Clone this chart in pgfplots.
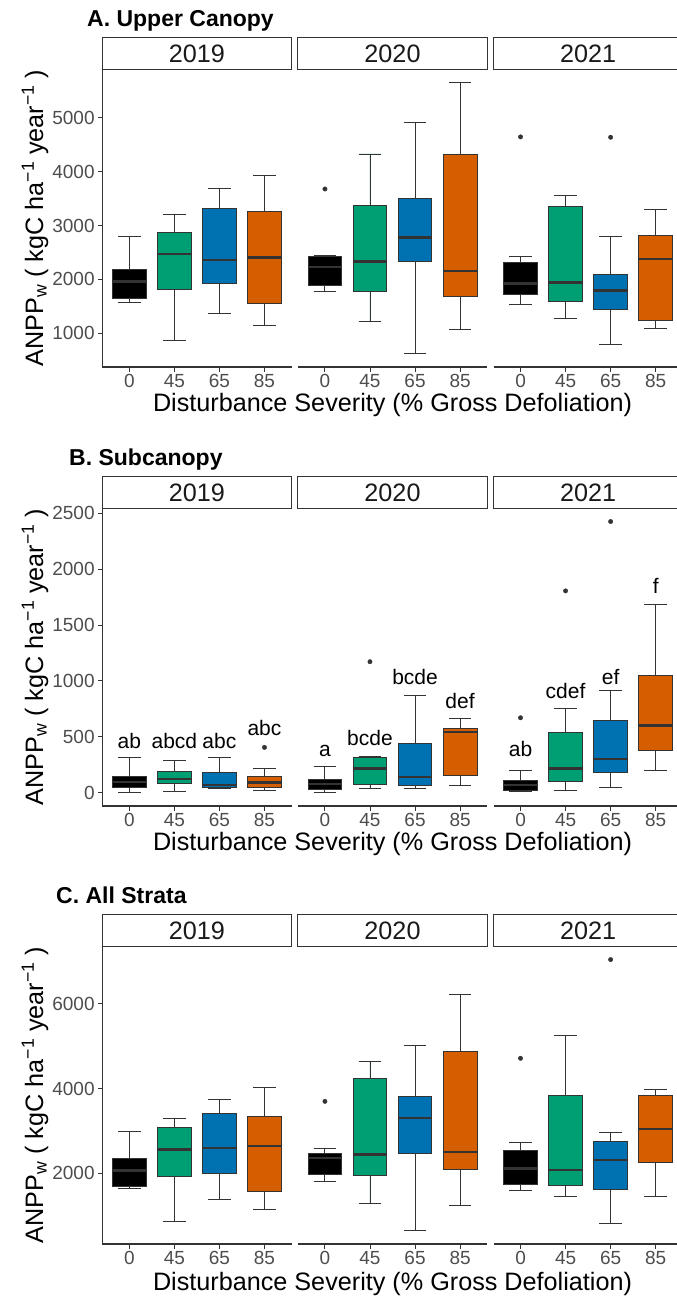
\documentclass[border=0pt]{standalone}
\usepackage{fontspec}
\setmainfont{Liberation Sans}
\usepackage{pgfplots}
\pgfplotsset{compat=1.18}
\usepgfplotslibrary{statistics}
\definecolor{cK}{HTML}{000000}
\definecolor{cG}{HTML}{009E73}
\definecolor{cB}{HTML}{0072B2}
\definecolor{cO}{HTML}{D55E00}
\definecolor{gA}{HTML}{333333}
\definecolor{gT}{HTML}{4D4D4D}
\definecolor{gS}{HTML}{1A1A1A}
\newcommand{\tfont}{\fontsize{19}{21}\selectfont}
\newcommand{\lfont}{\fontsize{25.2}{27}\selectfont}
\pgfplotsset{
 panel/.style={scale only axis, width=189.2pt, height=298pt,
   xmin=0.4, xmax=4.6, xtick={1,2,3,4}, xticklabels={0,45,65,85},
   axis x line*=bottom, tick align=outside, major tick length=4.5pt,
   tick style={gA, line width=0.9pt},
   axis line style={gA, line width=1.2pt},
   tick label style={font=\tfont, text=gT},
   xticklabel style={anchor=north, inner sep=0pt, yshift=-2.5pt},
   yticklabel style={anchor=east, inner sep=0pt, xshift=-3pt},
   clip=false, anchor=south west},
 first/.style={panel, axis y line*=left},
 other/.style={panel, axis y line=none, ytick=\empty},
 bx/.style={fill=#1, draw=gA, line width=0.9pt,
   boxplot/draw direction=y,
   boxplot/box extend=0.75, boxplot/whisker extend=0.5,
   boxplot/every median/.style={line width=2.4pt},
   mark=*, mark size=2.2pt, mark options={fill=gA, draw=gA, line width=0.4pt}},
}
\tikzset{lt/.style={anchor=base, font=\fontsize{21}{22}\selectfont, text=black}}
\newcommand{\strips}[1]{%
 \foreach \xl/\yr in {102.3/2019,297.9/2020,493.5/2021}{%
  \draw[gA, line width=1pt, fill=white] (\xl pt,#1) rectangle ++(189.2pt,-31.3pt);
  \node[font=\lfont, text=gS] at ([shift={(94.6pt,-15.65pt)}]\xl pt,#1) {\yr};
 }}
\newcommand{\ytitle}[1]{%
 \node[rotate=90, anchor=base, font=\lfont] at (43pt,#1) {ANPP\textsubscript{w} ( kgC ha\textsuperscript{−1} year\textsuperscript{−1} )};}
\newcommand{\xtitle}[1]{%
 \node[anchor=base, font=\lfont] at (392.5pt,#1) {Disturbance Severity (\% Gross Defoliation)};}
\begin{document}
\begin{tikzpicture}
\useasboundingbox (0pt,0pt) rectangle (677pt,-1296pt);

% ================= A. Upper Canopy =================
\begin{axis}[first, at={(102.3pt,-367pt)}, ymin=370, ymax=5909,
  ytick={1000,2000,3000,4000,5000}, yticklabels={1000,2000,3000,4000,5000}]
\addplot[bx=cK, boxplot prepared={draw position=1, lower whisker=1571, lower quartile=1651, median=1961, upper quartile=2191, upper whisker=2798}] coordinates {};
\addplot[bx=cG, boxplot prepared={draw position=2, lower whisker=864, lower quartile=1806, median=2470, upper quartile=2867, upper whisker=3208}] coordinates {};
\addplot[bx=cB, boxplot prepared={draw position=3, lower whisker=1360, lower quartile=1924, median=2358, upper quartile=3319, upper whisker=3691}] coordinates {};
\addplot[bx=cO, boxplot prepared={draw position=4, lower whisker=1136, lower quartile=1552, median=2402, upper quartile=3257, upper whisker=3927}] coordinates {};
\end{axis}
\begin{axis}[other, at={(297.9pt,-367pt)}, ymin=370, ymax=5909]
\addplot[bx=cK, boxplot prepared={draw position=1, lower whisker=1769, lower quartile=1893, median=2228, upper quartile=2426, upper whisker=2445}] coordinates {(1,3679)};
\addplot[bx=cG, boxplot prepared={draw position=2, lower whisker=1217, lower quartile=1775, median=2333, upper quartile=3381, upper whisker=4330}] coordinates {};
\addplot[bx=cB, boxplot prepared={draw position=3, lower whisker=622, lower quartile=2333, median=2774, upper quartile=3512, upper whisker=4913}] coordinates {};
\addplot[bx=cO, boxplot prepared={draw position=4, lower whisker=1074, lower quartile=1688, median=2160, upper quartile=4318, upper whisker=5657}] coordinates {};
\end{axis}
\begin{axis}[other, at={(493.5pt,-367pt)}, ymin=370, ymax=5909]
\addplot[bx=cK, boxplot prepared={draw position=1, lower whisker=1540, lower quartile=1726, median=1924, upper quartile=2308, upper whisker=2426}] coordinates {(1,4647)};
\addplot[bx=cG, boxplot prepared={draw position=2, lower whisker=1279, lower quartile=1595, median=1943, upper quartile=3350, upper whisker=3555}] coordinates {};
\addplot[bx=cB, boxplot prepared={draw position=3, lower whisker=783, lower quartile=1446, median=1794, upper quartile=2098, upper whisker=2798}] coordinates {(3,4640)};
\addplot[bx=cO, boxplot prepared={draw position=4, lower whisker=1081, lower quartile=1236, median=2377, upper quartile=2817, upper whisker=3295}] coordinates {};
\end{axis}
\strips{-37.7pt}
\node[anchor=base west, inner sep=0pt, font=\fontsize{23}{25}\selectfont\bfseries] at (87pt,-26.7pt) {A. Upper Canopy};
\ytitle{-218pt}
\xtitle{-411pt}

% ================= B. Subcanopy =================
\begin{axis}[first, at={(102.3pt,-806pt)}, ymin=-118, ymax=2546,
  ytick={0,500,1000,1500,2000,2500}, yticklabels={0,500,1000,1500,2000,2500}]
\addplot[bx=cK, boxplot prepared={draw position=1, lower whisker=3, lower quartile=45, median=98, upper quartile=149, upper whisker=316}] coordinates {};
\addplot[bx=cG, boxplot prepared={draw position=2, lower whisker=15, lower quartile=81, median=125, upper quartile=194, upper whisker=286}] coordinates {};
\addplot[bx=cB, boxplot prepared={draw position=3, lower whisker=40, lower quartile=48, median=69, upper quartile=182, upper whisker=316}] coordinates {};
\addplot[bx=cO, boxplot prepared={draw position=4, lower whisker=18, lower quartile=45, median=92, upper quartile=143, upper whisker=218}] coordinates {(4,406)};
\node[lt] at (axis cs:1,397) {ab};
\node[lt] at (axis cs:2,397) {abcd};
\node[lt] at (axis cs:3,397) {abc};
\node[lt] at (axis cs:4,516) {abc};
\end{axis}
\begin{axis}[other, at={(297.9pt,-806pt)}, ymin=-118, ymax=2546]
\addplot[bx=cK, boxplot prepared={draw position=1, lower whisker=6, lower quartile=33, median=78, upper quartile=122, upper whisker=239}] coordinates {};
\addplot[bx=cG, boxplot prepared={draw position=2, lower whisker=39, lower quartile=75, median=218, upper quartile=316, upper whisker=328}] coordinates {(2,1172)};
\addplot[bx=cB, boxplot prepared={draw position=3, lower whisker=39, lower quartile=69, median=143, upper quartile=439, upper whisker=874}] coordinates {};
\addplot[bx=cO, boxplot prepared={draw position=4, lower whisker=63, lower quartile=158, median=543, upper quartile=579, upper whisker=662}] coordinates {};
\node[lt] at (axis cs:1,322) {a};
\node[lt] at (axis cs:2,427) {bcde};
\node[lt] at (axis cs:3,964) {bcde};
\node[lt] at (axis cs:4,755) {def};
\end{axis}
\begin{axis}[other, at={(493.5pt,-806pt)}, ymin=-118, ymax=2546]
\addplot[bx=cK, boxplot prepared={draw position=1, lower whisker=15, lower quartile=24, median=69, upper quartile=113, upper whisker=197}] coordinates {(1,671)};
\addplot[bx=cG, boxplot prepared={draw position=2, lower whisker=18, lower quartile=98, median=218, upper quartile=543, upper whisker=755}] coordinates {(2,1805)};
\addplot[bx=cB, boxplot prepared={draw position=3, lower whisker=48, lower quartile=182, median=301, upper quartile=644, upper whisker=913}] coordinates {(3,2425)};
\addplot[bx=cO, boxplot prepared={draw position=4, lower whisker=197, lower quartile=376, median=600, upper quartile=1053, upper whisker=1686}] coordinates {};
\node[lt] at (axis cs:1,328) {ab};
\node[lt] at (axis cs:2,844) {cdef};
\node[lt] at (axis cs:3,970) {ef};
\node[lt] at (axis cs:4,1784) {f};
\end{axis}
\strips{-476.7pt}
\node[anchor=base west, inner sep=0pt, font=\fontsize{23}{25}\selectfont\bfseries] at (69pt,-465pt) {B. Subcanopy};
\ytitle{-657pt}
\xtitle{-850pt}

% ================= C. All Strata =================
\begin{axis}[first, at={(102.3pt,-1244pt)}, ymin=337, ymax=7356,
  ytick={2000,4000,6000}, yticklabels={2000,4000,6000}]
\addplot[bx=cK, boxplot prepared={draw position=1, lower whisker=1646, lower quartile=1686, median=2071, upper quartile=2346, upper whisker=2998}] coordinates {};
\addplot[bx=cG, boxplot prepared={draw position=2, lower whisker=876, lower quartile=1937, median=2566, upper quartile=3092, upper whisker=3289}] coordinates {};
\addplot[bx=cB, boxplot prepared={draw position=3, lower whisker=1387, lower quartile=1992, median=2597, upper quartile=3415, upper whisker=3737}] coordinates {};
\addplot[bx=cO, boxplot prepared={draw position=4, lower whisker=1151, lower quartile=1583, median=2644, upper quartile=3352, upper whisker=4028}] coordinates {};
\end{axis}
\begin{axis}[other, at={(297.9pt,-1244pt)}, ymin=337, ymax=7356]
\addplot[bx=cK, boxplot prepared={draw position=1, lower whisker=1819, lower quartile=1969, median=2361, upper quartile=2479, upper whisker=2597}] coordinates {(1,3697)};
\addplot[bx=cG, boxplot prepared={draw position=2, lower whisker=1285, lower quartile=1953, median=2448, upper quartile=4232, upper whisker=4633}] coordinates {};
\addplot[bx=cB, boxplot prepared={draw position=3, lower whisker=656, lower quartile=2464, median=3312, upper quartile=3823, upper whisker=5018}] coordinates {};
\addplot[bx=cO, boxplot prepared={draw position=4, lower whisker=1253, lower quartile=2094, median=2511, upper quartile=4884, upper whisker=6212}] coordinates {};
\end{axis}
\begin{axis}[other, at={(493.5pt,-1244pt)}, ymin=337, ymax=7356]
\addplot[bx=cK, boxplot prepared={draw position=1, lower whisker=1591, lower quartile=1749, median=2118, upper quartile=2534, upper whisker=2731}] coordinates {(1,4711)};
\addplot[bx=cG, boxplot prepared={draw position=2, lower whisker=1450, lower quartile=1725, median=2086, upper quartile=3847, upper whisker=5238}] coordinates {};
\addplot[bx=cB, boxplot prepared={draw position=3, lower whisker=829, lower quartile=1623, median=2322, upper quartile=2746, upper whisker=2959}] coordinates {(3,7037)};
\addplot[bx=cO, boxplot prepared={draw position=4, lower whisker=1450, lower quartile=2251, median=3053, upper quartile=3847, upper whisker=3988}] coordinates {};
\end{axis}
\strips{-914.7pt}
\node[anchor=base west, inner sep=0pt, font=\fontsize{23}{25}\selectfont\bfseries] at (56pt,-903.3pt) {C. All Strata};
\ytitle{-1095pt}
\xtitle{-1290pt}
\end{tikzpicture}
\end{document}
